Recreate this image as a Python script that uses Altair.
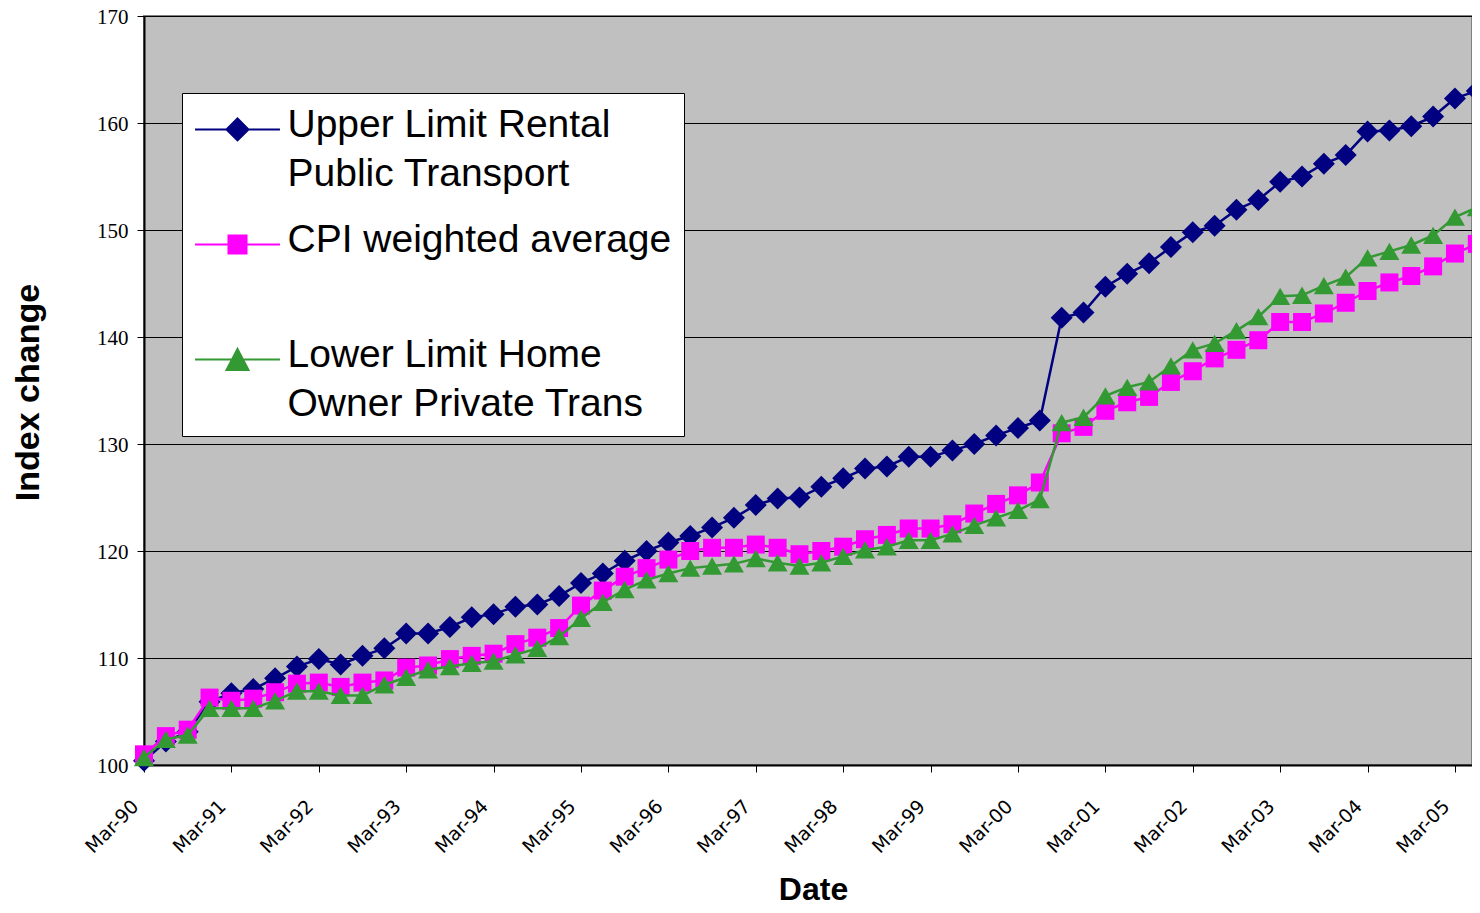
import altair as alt
import pandas as pd

# ---------------- data ----------------
SERIES = [
    "Upper Limit Rental Public Transport",
    "CPI weighted average",
    "Lower Limit Home Owner Private Trans",
]
LEGEND_LINES = [
    ["Upper Limit Rental", "Public Transport"],
    ["CPI weighted average", ""],
    ["Lower Limit Home", "Owner Private Trans"],
]
COLORS = ["#000080", "#FF00FF", "#339933"]
SHAPES = ["diamond", "square", "triangle-up"]
SIZES = [484, 324, 400]

YEAR_LABELS = ["Mar-90", "Mar-91", "Mar-92", "Mar-93", "Mar-94", "Mar-95", "Mar-96",
               "Mar-97", "Mar-98", "Mar-99", "Mar-00", "Mar-01", "Mar-02", "Mar-03",
               "Mar-04", "Mar-05"]

upper = [100.4, 102.2, 103.1, 105.9, 106.7, 107.1, 108.1, 109.2, 109.9, 109.4,
         110.2, 110.9, 112.3, 112.3, 112.9, 113.8, 114.1, 114.8, 115.0, 115.8,
         117.0, 117.9, 119.1, 120.0, 120.8, 121.4, 122.2, 123.1, 124.3, 124.9,
         125.0, 126.0, 126.8, 127.7, 127.9, 128.8, 128.8, 129.4, 130.0, 130.8,
         131.5, 132.2, 141.8, 142.3, 144.7, 145.9, 146.9, 148.4, 149.8, 150.4,
         151.9, 152.8, 154.5, 155.0, 156.2, 157.0, 159.2, 159.3, 159.7, 160.6,
         162.3, 163.0]

cpi = [101.0, 102.7, 103.3, 106.3, 106.0, 106.2, 106.8, 107.6, 107.7, 107.3,
       107.7, 107.9, 109.1, 109.3, 109.9, 110.2, 110.4, 111.3, 111.9, 112.8,
       114.9, 116.3, 117.6, 118.4, 119.2, 120.0, 120.3, 120.3, 120.6, 120.3,
       119.7, 120.0, 120.4, 121.1, 121.5, 122.1, 122.1, 122.5, 123.5, 124.4,
       125.2, 126.4, 131.0, 131.6, 133.1, 133.9, 134.4, 135.8, 136.8, 138.0,
       138.8, 139.7, 141.4, 141.4, 142.2, 143.2, 144.3, 145.1, 145.7, 146.6,
       147.8, 148.7]

lower = [100.7, 102.4, 102.8, 105.3, 105.3, 105.3, 106.0, 106.9, 106.9, 106.5,
         106.5, 107.5, 108.2, 108.9, 109.2, 109.5, 109.7, 110.3, 110.9, 112.0,
         113.7, 115.2, 116.4, 117.3, 117.9, 118.4, 118.6, 118.8, 119.3, 118.9,
         118.6, 118.9, 119.5, 120.1, 120.4, 121.0, 121.0, 121.6, 122.4, 123.1,
         123.8, 124.8, 132.0, 132.5, 134.5, 135.3, 135.8, 137.3, 138.8, 139.4,
         140.6, 141.9, 143.8, 143.9, 144.8, 145.6, 147.4, 148.0, 148.6, 149.5,
         151.2, 152.1]

rows = []
for name, vals in zip(SERIES, [upper, cpi, lower]):
    for i, v in enumerate(vals):
        rows.append({"q": i, "series": name, "value": v})
df = pd.DataFrame(rows)

# ---------------- encodings ----------------
x_label_expr = "[" + ",".join("'%s'" % s for s in YEAR_LABELS) + "][round(datum.value/4)]"

X = alt.X(
    "q:Q",
    scale=alt.Scale(domain=[0, 60.78], nice=False, zero=False),
    axis=alt.Axis(
        values=list(range(0, 61, 4)),
        labelExpr=x_label_expr,
        title="Date",
        grid=False,
        labelAngle=-45,
        labelAlign="right",
        labelBaseline="middle",
        labelFlush=False,
        labelOverlap=False,
        labelFont="DejaVu Sans",
        labelFontSize=19,
        labelColor="black",
        labelPadding=31,
        labelOffset=-9,
        tickSize=7,
        tickColor="black",
        domainColor="black",
        domainWidth=2,
        titleFont="Liberation Sans",
        titleFontSize=32,
        titleFontWeight="bold",
        titleColor="black",
        titleX=669,
        titleY=134,
        titleAlign="center",
        titleBaseline="alphabetic",
    ),
)

Y = alt.Y(
    "value:Q",
    scale=alt.Scale(domain=[100, 170], nice=False, zero=False),
    axis=alt.Axis(
        values=list(range(100, 171, 10)),
        title="Index change",
        grid=True,
        gridColor="black",
        gridWidth=1,
        labelFont="Liberation Serif",
        labelFontSize=21,
        labelColor="black",
        labelPadding=9,
        labelOffset=1,
        tickSize=7,
        tickColor="black",
        domainColor="black",
        domainWidth=2,
        titleFont="Liberation Sans",
        titleFontSize=34,
        titleFontWeight="bold",
        titleColor="black",
        titleAngle=270,
        titleX=-116,
        titleY=376,
        titleAlign="center",
        titleBaseline="middle",
    ),
)

# legend symbols: a line through the marker (custom paths, shifted slightly down)
L = 3.86
LEGEND_PATHS = [
    "M-%s,0.45L%s,0.45M-1,0.45L0,-0.55L1,0.45L0,1.45Z" % (L, L),
    "M-%s,0.45L%s,0.45M-0.82,-0.37L0.82,-0.37L0.82,1.27L-0.82,1.27Z" % (L, L),
    "M-%s,0.45L%s,0.45M0,-0.5L1,1.4L-1,1.4Z" % (L, L),
]


def arr(lines):
    return "[" + ",".join("'%s'" % t for t in lines) + "]"


legend_label_expr = "datum.label === '%s' ? %s : datum.label === '%s' ? %s : %s" % (
    SERIES[0], arr(LEGEND_LINES[0]), SERIES[1], arr(LEGEND_LINES[1]), arr(LEGEND_LINES[2]))


def make_legend():
    return alt.Legend(
        title=None,
        orient="none",
        legendX=38,
        legendY=77,
        fillColor="white",
        strokeColor="black",
        padding=12,
        rowPadding=26,
        labelFont="Liberation Sans",
        labelFontSize=39,
        labelColor="black",
        labelLimit=1000,
        labelExpr=legend_label_expr,
        labelBaseline="middle",
        labelOffset=30.5,
        symbolOffset=24,
        symbolSize=484,
        symbolStrokeWidth=2,
    )


base = alt.Chart(df)

layers = []
for name, col, shp, sz in zip(SERIES, COLORS, SHAPES, SIZES):
    sub = base.transform_filter(alt.datum.series == name)
    layers.append(sub.mark_line(color=col, strokeWidth=2.5).encode(x=X, y=Y))
    layers.append(
        sub.mark_point(filled=True, opacity=1, color=col, shape=shp, size=sz).encode(x=X, y=Y)
    )

# legend carrier layer (draws nothing; carries colour / shape scales for the legend)
legend_layer = base.transform_filter("false").mark_point(filled=True, opacity=1).encode(
    x=X, y=Y,
    color=alt.Color("series:N", scale=alt.Scale(domain=SERIES, range=COLORS), legend=make_legend()),
    stroke=alt.Stroke("series:N", scale=alt.Scale(domain=SERIES, range=COLORS), legend=make_legend()),
    shape=alt.Shape("series:N", scale=alt.Scale(domain=SERIES, range=LEGEND_PATHS), legend=make_legend()),
)
layers.append(legend_layer)

chart = (
    alt.layer(*layers)
    .properties(
        width=1328,
        height=749,
        autosize=alt.AutoSizeParams(type="none"),
        padding={"left": 136, "top": 8, "right": 0, "bottom": 141},
        background="white",
    )
    .configure(style={"guide-label": {"lineHeight": 49}})
    .configure_view(fill="#C0C0C0", stroke="#808080", strokeWidth=2)
)

chart.save("out.html", embed_options={"renderer": "svg", "actions": False})
